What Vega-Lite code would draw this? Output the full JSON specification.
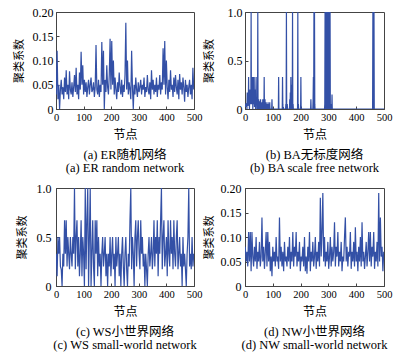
{
"$schema":"https://vega.github.io/schema/vega-lite/v6.json",
"padding":{"left":12,"top":5,"right":0,"bottom":0},
"background":"white",
"datasets":{
"a":[{"n":1,"c":0.03},{"n":4,"c":0.12},{"n":7,"c":0.02},{"n":10,"c":0.05},{"n":13,"c":0},{"n":16,"c":0.04},{"n":19,"c":0.06},{"n":22,"c":0.03},{"n":25,"c":0.045},{"n":28,"c":0.02},{"n":31,"c":0.065},{"n":34,"c":0.035},{"n":37,"c":0.08},{"n":40,"c":0.03},{"n":43,"c":0.05},{"n":46,"c":0.02},{"n":49,"c":0.078},{"n":52,"c":0.04},{"n":55,"c":0.03},{"n":58,"c":0.055},{"n":61,"c":0.025},{"n":64,"c":0.045},{"n":67,"c":0.07},{"n":70,"c":0.035},{"n":73,"c":0.085},{"n":76,"c":0.03},{"n":79,"c":0.05},{"n":82,"c":0.02},{"n":85,"c":0.075},{"n":88,"c":0.04},{"n":91,"c":0.118},{"n":94,"c":0.05},{"n":97,"c":0.09},{"n":100,"c":0.03},{"n":103,"c":0.06},{"n":106,"c":0.035},{"n":109,"c":0.055},{"n":112,"c":0.025},{"n":115,"c":0.045},{"n":118,"c":0.06},{"n":121,"c":0.03},{"n":124,"c":0.05},{"n":127,"c":0.065},{"n":130,"c":0.035},{"n":133,"c":0.04},{"n":136,"c":0.055},{"n":139,"c":0.025},{"n":142,"c":0.045},{"n":145,"c":0.132},{"n":148,"c":0.04},{"n":151,"c":0.03},{"n":154,"c":0.06},{"n":157,"c":0.025},{"n":160,"c":0.05},{"n":163,"c":0.035},{"n":166,"c":0.138},{"n":169,"c":0.05},{"n":172,"c":0.12},{"n":175,"c":0},{"n":178,"c":0.06},{"n":181,"c":0.035},{"n":184,"c":0.09},{"n":187,"c":0.045},{"n":190,"c":0.03},{"n":193,"c":0.07},{"n":196,"c":0.145},{"n":199,"c":0.04},{"n":202,"c":0.14},{"n":205,"c":0.05},{"n":208,"c":0.1},{"n":211,"c":0.03},{"n":214,"c":0.065},{"n":217,"c":0.04},{"n":220,"c":0.02},{"n":223,"c":0.055},{"n":226,"c":0.035},{"n":229,"c":0.075},{"n":232,"c":0.045},{"n":235,"c":0.03},{"n":238,"c":0.06},{"n":241,"c":0.025},{"n":244,"c":0.05},{"n":247,"c":0.035},{"n":250,"c":0.07},{"n":253,"c":0.178},{"n":256,"c":0.04},{"n":259,"c":0.1},{"n":262,"c":0.03},{"n":265,"c":0.055},{"n":268,"c":0.04},{"n":271,"c":0.02},{"n":274,"c":0.12},{"n":277,"c":0.045},{"n":280,"c":0},{"n":283,"c":0.05},{"n":286,"c":0.03},{"n":289,"c":0.065},{"n":292,"c":0.04},{"n":295,"c":0.025},{"n":298,"c":0.055},{"n":301,"c":0.035},{"n":304,"c":0.045},{"n":307,"c":0.06},{"n":310,"c":0.03},{"n":313,"c":0.05},{"n":316,"c":0.04},{"n":319,"c":0.065},{"n":322,"c":0.025},{"n":325,"c":0.045},{"n":328,"c":0.035},{"n":331,"c":0.07},{"n":334,"c":0.04},{"n":337,"c":0.03},{"n":340,"c":0.055},{"n":343,"c":0.02},{"n":346,"c":0.08},{"n":349,"c":0.04},{"n":352,"c":0.06},{"n":355,"c":0.03},{"n":358,"c":0.05},{"n":361,"c":0.035},{"n":364,"c":0.065},{"n":367,"c":0.025},{"n":370,"c":0.05},{"n":373,"c":0.04},{"n":376,"c":0.07},{"n":379,"c":0.03},{"n":382,"c":0.055},{"n":385,"c":0.04},{"n":388,"c":0.125},{"n":391,"c":0.05},{"n":394,"c":0.14},{"n":397,"c":0.03},{"n":400,"c":0.1},{"n":403,"c":0.045},{"n":406,"c":0.02},{"n":409,"c":0.06},{"n":412,"c":0.035},{"n":415,"c":0.08},{"n":418,"c":0.04},{"n":421,"c":0.05},{"n":424,"c":0.025},{"n":427,"c":0.065},{"n":430,"c":0.035},{"n":433,"c":0.07},{"n":436,"c":0.045},{"n":439,"c":0.03},{"n":442,"c":0.06},{"n":445,"c":0.02},{"n":448,"c":0.072},{"n":451,"c":0.04},{"n":454,"c":0.055},{"n":457,"c":0.03},{"n":460,"c":0.065},{"n":463,"c":0.045},{"n":466,"c":0.015},{"n":469,"c":0.06},{"n":472,"c":0.035},{"n":475,"c":0.05},{"n":478,"c":0.025},{"n":481,"c":0.045},{"n":484,"c":0.06},{"n":487,"c":0.03},{"n":490,"c":0.05},{"n":493,"c":0.02},{"n":496,"c":0.085},{"n":499,"c":0.04}],
"b":[{"n":0,"c":0.05},{"n":1,"c":0.02},{"n":2,"c":0.05},{"n":3,"c":0.03},{"n":4,"c":0.06},{"n":5,"c":0.02},{"n":6,"c":0.04},{"n":7,"c":0},{"n":8,"c":0.17},{"n":9,"c":0.05},{"n":10,"c":0.1},{"n":11,"c":0.03},{"n":12,"c":0.1},{"n":13,"c":0.33},{"n":14,"c":0.05},{"n":15,"c":0.1},{"n":16,"c":0},{"n":17,"c":0.1},{"n":18,"c":0.2},{"n":19,"c":0.05},{"n":20,"c":0.1},{"n":21,"c":0.05},{"n":22,"c":1},{"n":23,"c":0.1},{"n":24,"c":0.33},{"n":25,"c":0.05},{"n":26,"c":0.1},{"n":27,"c":0.33},{"n":28,"c":0},{"n":29,"c":0.1},{"n":30,"c":0.33},{"n":31,"c":0.05},{"n":32,"c":0.15},{"n":33,"c":0.33},{"n":34,"c":0.02},{"n":35,"c":0.1},{"n":36,"c":0.05},{"n":37,"c":0.2},{"n":38,"c":0},{"n":39,"c":0.17},{"n":40,"c":0.33},{"n":41,"c":0.05},{"n":42,"c":0.1},{"n":43,"c":0},{"n":44,"c":0.07},{"n":45,"c":0},{"n":46,"c":1},{"n":47,"c":0},{"n":48,"c":0.05},{"n":49,"c":0.1},{"n":50,"c":0.03},{"n":51,"c":0},{"n":52,"c":0.05},{"n":53,"c":0.08},{"n":54,"c":0},{"n":55,"c":0.05},{"n":56,"c":0.1},{"n":57,"c":0.02},{"n":58,"c":0},{"n":59,"c":0.05},{"n":60,"c":0},{"n":61,"c":0.07},{"n":62,"c":0.03},{"n":63,"c":0},{"n":64,"c":0.1},{"n":65,"c":0.05},{"n":66,"c":0},{"n":67,"c":0.05},{"n":68,"c":0},{"n":69,"c":0.33},{"n":70,"c":0},{"n":71,"c":0.05},{"n":72,"c":0.1},{"n":73,"c":0},{"n":74,"c":0.05},{"n":75,"c":0},{"n":76,"c":0.07},{"n":77,"c":0},{"n":78,"c":0.05},{"n":79,"c":0},{"n":80,"c":0},{"n":81,"c":0.05},{"n":82,"c":0},{"n":83,"c":0.07},{"n":84,"c":0},{"n":85,"c":0},{"n":86,"c":0.05},{"n":87,"c":0},{"n":88,"c":0},{"n":89,"c":0.07},{"n":90,"c":0},{"n":96,"c":0},{"n":97,"c":0.1},{"n":98,"c":0},{"n":120,"c":0},{"n":121,"c":0.33},{"n":122,"c":0},{"n":134,"c":0},{"n":135,"c":0.33},{"n":136,"c":0.05},{"n":137,"c":0},{"n":138,"c":0.02},{"n":139,"c":0},{"n":146,"c":0},{"n":147,"c":0.05},{"n":148,"c":0},{"n":149,"c":1},{"n":150,"c":0},{"n":151,"c":0},{"n":152,"c":0.05},{"n":153,"c":0},{"n":160,"c":0},{"n":161,"c":0.1},{"n":162,"c":0},{"n":163,"c":0.17},{"n":164,"c":0},{"n":165,"c":0.33},{"n":166,"c":0.1},{"n":167,"c":0.25},{"n":168,"c":0},{"n":169,"c":0.1},{"n":170,"c":0},{"n":171,"c":1},{"n":172,"c":0},{"n":173,"c":0.05},{"n":174,"c":0},{"n":189,"c":0},{"n":190,"c":1},{"n":191,"c":0},{"n":192,"c":0.05},{"n":193,"c":0},{"n":200,"c":0},{"n":201,"c":0.33},{"n":202,"c":0},{"n":236,"c":0},{"n":237,"c":0.1},{"n":238,"c":0},{"n":244,"c":0},{"n":245,"c":0.1},{"n":246,"c":0.33},{"n":247,"c":0},{"n":248,"c":1},{"n":249,"c":0},{"n":250,"c":1},{"n":251,"c":0.05},{"n":252,"c":0},{"n":286,"c":0},{"n":287,"c":0.05},{"n":288,"c":1},{"n":289,"c":0},{"n":290,"c":1},{"n":291,"c":0.33},{"n":292,"c":1},{"n":293,"c":0},{"n":294,"c":1},{"n":295,"c":0.2},{"n":296,"c":1},{"n":297,"c":0},{"n":298,"c":1},{"n":299,"c":0.1},{"n":300,"c":1},{"n":301,"c":0},{"n":302,"c":1},{"n":303,"c":0.05},{"n":304,"c":1},{"n":305,"c":0},{"n":306,"c":1},{"n":307,"c":0},{"n":308,"c":0},{"n":309,"c":0.05},{"n":310,"c":0},{"n":312,"c":0},{"n":313,"c":0.15},{"n":314,"c":0},{"n":458,"c":0},{"n":459,"c":0},{"n":460,"c":1},{"n":461,"c":0},{"n":462,"c":1},{"n":463,"c":0},{"n":464,"c":1},{"n":465,"c":0},{"n":500,"c":0}],
"c":[{"n":1,"c":0.33},{"n":4,"c":0.1},{"n":7,"c":0.5},{"n":10,"c":0.33},{"n":13,"c":0.5},{"n":16,"c":0.2},{"n":19,"c":0.17},{"n":22,"c":0},{"n":25,"c":0.33},{"n":28,"c":0.2},{"n":31,"c":0.67},{"n":34,"c":0.33},{"n":37,"c":0.67},{"n":40,"c":0.2},{"n":43,"c":0.5},{"n":46,"c":0.33},{"n":49,"c":0.17},{"n":52,"c":0.5},{"n":55,"c":0.33},{"n":58,"c":0.2},{"n":61,"c":0.5},{"n":64,"c":0.33},{"n":67,"c":1},{"n":70,"c":0.17},{"n":73,"c":0.5},{"n":76,"c":0.67},{"n":79,"c":0.2},{"n":82,"c":0.5},{"n":85,"c":0.1},{"n":88,"c":0.33},{"n":91,"c":0.67},{"n":94,"c":0.1},{"n":97,"c":0.5},{"n":100,"c":0.33},{"n":103,"c":0},{"n":106,"c":1},{"n":109,"c":0.17},{"n":112,"c":0.67},{"n":115,"c":1},{"n":118,"c":0},{"n":121,"c":0.5},{"n":124,"c":1},{"n":127,"c":0},{"n":130,"c":0.33},{"n":133,"c":0.67},{"n":136,"c":0.2},{"n":139,"c":0},{"n":142,"c":0.67},{"n":145,"c":0.33},{"n":148,"c":0.67},{"n":151,"c":0.1},{"n":154,"c":0.5},{"n":157,"c":0.2},{"n":160,"c":0.33},{"n":163,"c":0},{"n":166,"c":0.33},{"n":169,"c":0.5},{"n":172,"c":0.2},{"n":175,"c":0.33},{"n":178,"c":0.5},{"n":181,"c":0.1},{"n":184,"c":0.33},{"n":187,"c":0},{"n":190,"c":0.33},{"n":193,"c":0.2},{"n":196,"c":0.5},{"n":199,"c":0.1},{"n":202,"c":0.33},{"n":205,"c":0.5},{"n":208,"c":0.17},{"n":211,"c":0.33},{"n":214,"c":0},{"n":217,"c":0.5},{"n":220,"c":0.2},{"n":223,"c":0.33},{"n":226,"c":0.5},{"n":229,"c":0.1},{"n":232,"c":0.33},{"n":235,"c":0},{"n":238,"c":0.33},{"n":241,"c":0.5},{"n":244,"c":0.2},{"n":247,"c":0},{"n":250,"c":0.33},{"n":253,"c":0.5},{"n":256,"c":0.17},{"n":259,"c":0},{"n":262,"c":0.33},{"n":265,"c":0.2},{"n":268,"c":0.67},{"n":271,"c":1},{"n":274,"c":0.17},{"n":277,"c":0.5},{"n":280,"c":0.33},{"n":283,"c":0},{"n":286,"c":0.5},{"n":289,"c":0.67},{"n":292,"c":0.2},{"n":295,"c":0.5},{"n":298,"c":0.67},{"n":301,"c":0.33},{"n":304,"c":0.17},{"n":307,"c":0.67},{"n":310,"c":0.33},{"n":313,"c":0.5},{"n":316,"c":0.2},{"n":319,"c":0.33},{"n":322,"c":0},{"n":325,"c":0.33},{"n":328,"c":0.17},{"n":331,"c":0},{"n":334,"c":0.33},{"n":337,"c":0.5},{"n":340,"c":0.2},{"n":343,"c":0.33},{"n":346,"c":0.5},{"n":349,"c":0.17},{"n":352,"c":0.33},{"n":355,"c":0.67},{"n":358,"c":0.2},{"n":361,"c":0.5},{"n":364,"c":0.33},{"n":367,"c":0.67},{"n":370,"c":0.1},{"n":373,"c":0.5},{"n":376,"c":0.33},{"n":379,"c":0.67},{"n":382,"c":1},{"n":385,"c":0.17},{"n":388,"c":0.5},{"n":391,"c":0.67},{"n":394,"c":0.2},{"n":397,"c":0.33},{"n":400,"c":0.5},{"n":403,"c":0.1},{"n":406,"c":0.67},{"n":409,"c":0.33},{"n":412,"c":0.2},{"n":415,"c":0.67},{"n":418,"c":0.33},{"n":421,"c":0.5},{"n":424,"c":0.17},{"n":427,"c":0.67},{"n":430,"c":0.33},{"n":433,"c":0.2},{"n":436,"c":0.5},{"n":439,"c":0.67},{"n":442,"c":0.17},{"n":445,"c":0.33},{"n":448,"c":0.5},{"n":451,"c":0.2},{"n":454,"c":0.33},{"n":457,"c":0},{"n":460,"c":0.5},{"n":463,"c":0.2},{"n":466,"c":0.33},{"n":469,"c":0.17},{"n":472,"c":0},{"n":475,"c":0.33},{"n":478,"c":0.5},{"n":481,"c":1},{"n":484,"c":0.2},{"n":487,"c":0.33},{"n":490,"c":0.17},{"n":493,"c":0.5},{"n":496,"c":0.2},{"n":499,"c":0.33}],
"d":[{"n":1,"c":0.08},{"n":4,"c":0.05},{"n":7,"c":0.07},{"n":10,"c":0.04},{"n":13,"c":0.11},{"n":16,"c":0.05},{"n":19,"c":0.11},{"n":22,"c":0.03},{"n":25,"c":0.11},{"n":28,"c":0.06},{"n":31,"c":0.04},{"n":34,"c":0.08},{"n":37,"c":0.05},{"n":40,"c":0.1},{"n":43,"c":0.035},{"n":46,"c":0.07},{"n":49,"c":0.05},{"n":52,"c":0.09},{"n":55,"c":0.04},{"n":58,"c":0.06},{"n":61,"c":0.14},{"n":64,"c":0.05},{"n":67,"c":0.08},{"n":70,"c":0.035},{"n":73,"c":0.07},{"n":76,"c":0.11},{"n":79,"c":0.04},{"n":82,"c":0.11},{"n":85,"c":0.05},{"n":88,"c":0.09},{"n":91,"c":0.03},{"n":94,"c":0.06},{"n":97,"c":0.02},{"n":100,"c":0.08},{"n":103,"c":0.05},{"n":106,"c":0.07},{"n":109,"c":0.04},{"n":112,"c":0.1},{"n":115,"c":0.05},{"n":118,"c":0.06},{"n":121,"c":0.035},{"n":124,"c":0.14},{"n":127,"c":0.05},{"n":130,"c":0.08},{"n":133,"c":0.04},{"n":136,"c":0.07},{"n":139,"c":0.03},{"n":142,"c":0.09},{"n":145,"c":0.05},{"n":148,"c":0.06},{"n":151,"c":0.04},{"n":154,"c":0.08},{"n":157,"c":0.05},{"n":160,"c":0.1},{"n":163,"c":0.035},{"n":166,"c":0.07},{"n":169,"c":0.05},{"n":172,"c":0.11},{"n":175,"c":0.04},{"n":178,"c":0.08},{"n":181,"c":0.06},{"n":184,"c":0.11},{"n":187,"c":0.04},{"n":190,"c":0.07},{"n":193,"c":0.05},{"n":196,"c":0.09},{"n":199,"c":0.03},{"n":202,"c":0.06},{"n":205,"c":0.05},{"n":208,"c":0.08},{"n":211,"c":0.04},{"n":214,"c":0.1},{"n":217,"c":0.03},{"n":220,"c":0.06},{"n":223,"c":0.025},{"n":226,"c":0.08},{"n":229,"c":0.05},{"n":232,"c":0.11},{"n":235,"c":0.03},{"n":238,"c":0.07},{"n":241,"c":0.05},{"n":244,"c":0.09},{"n":247,"c":0.04},{"n":250,"c":0.06},{"n":253,"c":0.1},{"n":256,"c":0.035},{"n":259,"c":0.07},{"n":262,"c":0.05},{"n":265,"c":0.09},{"n":268,"c":0.04},{"n":271,"c":0.18},{"n":274,"c":0.06},{"n":277,"c":0.11},{"n":280,"c":0.19},{"n":283,"c":0.05},{"n":286,"c":0.1},{"n":289,"c":0.04},{"n":292,"c":0.07},{"n":295,"c":0.05},{"n":298,"c":0.09},{"n":301,"c":0.035},{"n":304,"c":0.06},{"n":307,"c":0.1},{"n":310,"c":0.04},{"n":313,"c":0.08},{"n":316,"c":0.05},{"n":319,"c":0.07},{"n":322,"c":0.13},{"n":325,"c":0.04},{"n":328,"c":0.08},{"n":331,"c":0.06},{"n":334,"c":0.11},{"n":337,"c":0.04},{"n":340,"c":0.07},{"n":343,"c":0.05},{"n":346,"c":0.09},{"n":349,"c":0.03},{"n":352,"c":0.06},{"n":355,"c":0.05},{"n":358,"c":0.1},{"n":361,"c":0.14},{"n":364,"c":0.05},{"n":367,"c":0.08},{"n":370,"c":0.04},{"n":373,"c":0.07},{"n":376,"c":0.06},{"n":379,"c":0.11},{"n":382,"c":0.035},{"n":385,"c":0.07},{"n":388,"c":0.05},{"n":391,"c":0.09},{"n":394,"c":0.04},{"n":397,"c":0.12},{"n":400,"c":0.05},{"n":403,"c":0.07},{"n":406,"c":0.03},{"n":409,"c":0.08},{"n":412,"c":0.05},{"n":415,"c":0.1},{"n":418,"c":0.04},{"n":421,"c":0.13},{"n":424,"c":0.05},{"n":427,"c":0.07},{"n":430,"c":0.035},{"n":433,"c":0.06},{"n":436,"c":0.09},{"n":439,"c":0.04},{"n":442,"c":0.07},{"n":445,"c":0.11},{"n":448,"c":0.05},{"n":451,"c":0.11},{"n":454,"c":0.04},{"n":457,"c":0.08},{"n":460,"c":0.06},{"n":463,"c":0.11},{"n":466,"c":0.035},{"n":469,"c":0.07},{"n":472,"c":0.05},{"n":475,"c":0.09},{"n":478,"c":0.04},{"n":481,"c":0.19},{"n":484,"c":0.05},{"n":487,"c":0.14},{"n":490,"c":0.06},{"n":493,"c":0.08},{"n":496,"c":0.03},{"n":499,"c":0.07}]
},
"columns":2,
"bounds":"flush",
"spacing":{"row":79,"column":51},
"concat":[
{"width":138,"height":97,"data":{"name":"a"},
 "mark":{"type":"line","color":"#3350a6","strokeWidth":1.2,"clip":true},
 "encoding":{
  "x":{"field":"n","type":"quantitative","scale":{"domain":[0,500],"nice":false},"axis":{"title":"节点","values":[0,100,200,300,400,500]}},
  "y":{"field":"c","type":"quantitative","scale":{"domain":[0,0.2],"nice":false},"axis":{"title":"聚类系数","values":[0,0.05,0.1,0.15,0.2],"labelExpr":"datum.value==0?'0':format(datum.value,'.2f')","labelPadding":6,"titlePadding":8}}},
 "title":{"text":["(a) ER随机网络","(a) ER random network"],"orient":"bottom"}},
{"width":139,"height":97,"data":{"name":"b"},
 "mark":{"type":"line","color":"#3350a6","strokeWidth":1.2,"clip":true},
 "encoding":{
  "x":{"field":"n","type":"quantitative","scale":{"domain":[0,500],"nice":false},"axis":{"title":"节点","values":[0,100,200,300,400,500]}},
  "y":{"field":"c","type":"quantitative","scale":{"domain":[0,1],"nice":false},"axis":{"title":"聚类系数","values":[0,0.5,1],"labelExpr":"datum.value==0?'0':format(datum.value,'.1f')","labelPadding":6,"titlePadding":13}}},
 "title":{"text":["(b) BA无标度网络","(b) BA scale free network"],"orient":"bottom"}},
{"width":138,"height":98,"data":{"name":"c"},
 "mark":{"type":"line","color":"#3350a6","strokeWidth":1.2,"clip":true},
 "encoding":{
  "x":{"field":"n","type":"quantitative","scale":{"domain":[0,500],"nice":false},"axis":{"title":"节点","values":[0,100,200,300,400,500]}},
  "y":{"field":"c","type":"quantitative","scale":{"domain":[0,1],"nice":false},"axis":{"title":"聚类系数","values":[0,0.5,1],"labelExpr":"datum.value==0?'0':format(datum.value,'.1f')","labelPadding":8,"titlePadding":9}}},
 "title":{"text":["(c) WS小世界网络","(c) WS small-world network"],"orient":"bottom"}},
{"width":139,"height":98,"data":{"name":"d"},
 "mark":{"type":"line","color":"#3350a6","strokeWidth":1.2,"clip":true},
 "encoding":{
  "x":{"field":"n","type":"quantitative","scale":{"domain":[0,500],"nice":false},"axis":{"title":"节点","values":[0,100,200,300,400,500]}},
  "y":{"field":"c","type":"quantitative","scale":{"domain":[0,0.2],"nice":false},"axis":{"title":"聚类系数","values":[0,0.05,0.1,0.15,0.2],"labelExpr":"datum.value==0?'0':format(datum.value,'.2f')","labelPadding":7,"titlePadding":6}}},
 "title":{"text":["(d) NW小世界网络","(d) NW small-world network"],"orient":"bottom"}}
],
"config":{
 "font":"Liberation Serif, Noto Sans CJK SC",
 "view":{"stroke":"#444","strokeWidth":1},
 "axis":{"grid":false,"domainColor":"#444","tickColor":"#444","labelColor":"#000","titleColor":"#000","tickSize":-3,"titleFontWeight":"normal","labelFont":"Liberation Serif, Noto Sans CJK SC","titleFont":"Liberation Serif, Noto Sans CJK SC"},
 "axisX":{"labelFontSize":10.5,"titleFontSize":12,"labelPadding":6,"titlePadding":7,"labelFlush":false},
 "axisY":{"labelFontSize":12,"titleFontSize":11},
 "title":{"fontSize":12.5,"fontWeight":"normal","offset":8,"lineHeight":13,"color":"#000","font":"Liberation Serif, Noto Sans CJK SC"}
}
}
